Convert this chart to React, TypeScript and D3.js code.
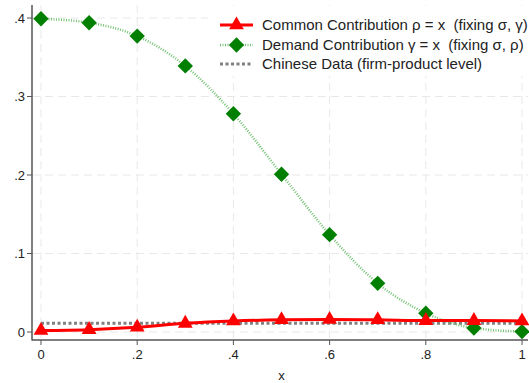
import React, { useEffect, useRef } from "react";
import * as d3 from "d3";

// x grid shared by both simulated series
const xValues = [0, 0.1, 0.2, 0.3, 0.4, 0.5, 0.6, 0.7, 0.8, 0.9, 1];
const commonContribution = [0.002, 0.003, 0.006, 0.011, 0.014, 0.0155, 0.016, 0.0155, 0.0145, 0.0145, 0.014];
const demandContribution = [0.399, 0.394, 0.377, 0.339, 0.278, 0.201, 0.124, 0.062, 0.024, 0.005, 0.0005];
const chineseData = 0.011;

const xTicks = [0, 0.2, 0.4, 0.6, 0.8, 1];
const xTickLabels = ["0", ".2", ".4", ".6", ".8", "1"];
const yTicks = [0, 0.1, 0.2, 0.3, 0.4];
const yTickLabels = ["0", ".1", ".2", ".3", ".4"];

const legendLabels = [
  "Common Contribution \u03c1 = x  (fixing \u03c3, \u03b3)",
  "Demand Contribution \u03b3 = x  (fixing \u03c3, \u03c1)",
  "Chinese Data (firm-product level)",
];

const App = () => {
  const ref = useRef<SVGSVGElement>(null);

  useEffect(() => {
    const width = 529,
      height = 383;
    const svg = d3.select(ref.current);
    svg.selectAll("*").remove();
    const font = "Arial, 'Liberation Sans', sans-serif";

    const x = d3.scaleLinear().domain([0, 1]).range([41, 522]);
    const y = d3.scaleLinear().domain([0, 0.4]).range([332, 18]);

    const left = 32,
      right = 528,
      bottom = 340,
      top = 5;

    svg.append("rect").attr("width", width).attr("height", height).attr("fill", "white");

    // grid
    svg
      .selectAll("hgrid")
      .data(yTicks)
      .enter()
      .append("line")
      .attr("x1", left)
      .attr("x2", right)
      .attr("y1", (d) => y(d))
      .attr("y2", (d) => y(d))
      .attr("stroke", "#e8e8e8")
      .attr("stroke-dasharray", "8,5");
    svg
      .selectAll("vgrid")
      .data(xTicks)
      .enter()
      .append("line")
      .attr("x1", (d) => x(d))
      .attr("x2", (d) => x(d))
      .attr("y1", top)
      .attr("y2", bottom)
      .attr("stroke", "#e8e8e8")
      .attr("stroke-dasharray", "8,5");

    // axes
    svg.append("line").attr("x1", left).attr("x2", left).attr("y1", top).attr("y2", bottom + 0.5).attr("stroke", "#555").attr("stroke-width", 1.5);
    svg.append("line").attr("x1", left).attr("x2", right).attr("y1", bottom).attr("y2", bottom).attr("stroke", "#555").attr("stroke-width", 1.5);

    svg
      .selectAll("ytick")
      .data(yTicks)
      .enter()
      .append("line")
      .attr("x1", left - 5)
      .attr("x2", left)
      .attr("y1", (d) => y(d))
      .attr("y2", (d) => y(d))
      .attr("stroke", "#555");
    svg
      .selectAll("ylab")
      .data(yTicks)
      .enter()
      .append("text")
      .attr("x", left - 7)
      .attr("y", (d) => y(d))
      .attr("dy", "0.35em")
      .attr("text-anchor", "end")
      .style("font-family", font)
      .style("font-size", "13px")
      .attr("fill", "#222")
      .text((d, i) => yTickLabels[i]);

    svg
      .selectAll("xtick")
      .data(xTicks)
      .enter()
      .append("line")
      .attr("x1", (d) => x(d))
      .attr("x2", (d) => x(d))
      .attr("y1", bottom)
      .attr("y2", bottom + 5)
      .attr("stroke", "#555");
    svg
      .selectAll("xlab")
      .data(xTicks)
      .enter()
      .append("text")
      .attr("x", (d) => x(d))
      .attr("y", bottom + 19)
      .attr("text-anchor", "middle")
      .style("font-family", font)
      .style("font-size", "13px")
      .attr("fill", "#222")
      .text((d, i) => xTickLabels[i]);

    svg
      .append("text")
      .attr("x", (x(0) + x(1)) / 2)
      .attr("y", 380)
      .attr("text-anchor", "middle")
      .style("font-family", font)
      .style("font-size", "13px")
      .attr("fill", "#222")
      .text("x");

    // chinese data reference line
    svg
      .append("line")
      .attr("x1", x(0))
      .attr("x2", x(1) + 5)
      .attr("y1", y(chineseData))
      .attr("y2", y(chineseData))
      .attr("stroke", "#808080")
      .attr("stroke-width", 3)
      .attr("stroke-dasharray", "3,2.5");

    const line = d3
      .line<number>()
      .x((d, i) => x(xValues[i]))
      .y((d) => y(d))
      .curve(d3.curveMonotoneX);

    // demand contribution
    svg
      .append("path")
      .attr("d", line(demandContribution) as string)
      .attr("fill", "none")
      .attr("stroke", "#74c274")
      .attr("stroke-width", 2.5)
      .attr("stroke-dasharray", "1,1.5");

    // common contribution
    svg
      .append("path")
      .attr("d", line(commonContribution) as string)
      .attr("fill", "none")
      .attr("stroke", "#ff0000")
      .attr("stroke-width", 3);

    const diamond = d3.symbol().type(d3.symbolDiamond2).size(150);
    const triangle = d3.symbol().type(d3.symbolTriangle).size(95);

    svg
      .selectAll("diamonds")
      .data(demandContribution)
      .enter()
      .append("path")
      .attr("d", diamond as any)
      .attr("transform", (d, i) => "translate(" + x(xValues[i]) + "," + y(d) + ")")
      .attr("fill", "#007f00");

    svg
      .selectAll("triangles")
      .data(commonContribution)
      .enter()
      .append("path")
      .attr("d", triangle as any)
      .attr("transform", (d, i) => "translate(" + x(xValues[i]) + "," + y(d) + ")")
      .attr("fill", "#ff0000");

    // legend
    const lg = svg.append("g");
    lg.append("rect").attr("x", 208).attr("y", 6).attr("width", 320).attr("height", 70).attr("fill", "white");
    const rowY = [25, 45, 64];
    const sx1 = 220,
      sx2 = 253,
      smid = (sx1 + sx2) / 2;
    lg.append("line").attr("x1", sx1).attr("x2", sx2).attr("y1", rowY[0]).attr("y2", rowY[0]).attr("stroke", "#ff0000").attr("stroke-width", 3);
    lg.append("path").attr("d", triangle as any).attr("transform", "translate(" + smid + "," + rowY[0] + ")").attr("fill", "#ff0000");
    lg.append("line").attr("x1", sx1).attr("x2", sx2).attr("y1", rowY[1]).attr("y2", rowY[1]).attr("stroke", "#74c274").attr("stroke-width", 2.5).attr("stroke-dasharray", "1,1.5");
    lg.append("path").attr("d", diamond as any).attr("transform", "translate(" + smid + "," + rowY[1] + ")").attr("fill", "#007f00");
    lg.append("line").attr("x1", sx1).attr("x2", sx2).attr("y1", rowY[2]).attr("y2", rowY[2]).attr("stroke", "#808080").attr("stroke-width", 3).attr("stroke-dasharray", "3,2.5");

    lg.selectAll("ltext")
      .data(legendLabels)
      .enter()
      .append("text")
      .attr("x", 262)
      .attr("y", (d, i) => rowY[i])
      .attr("dy", "0.35em")
      .style("font-family", font)
      .style("font-size", "15px")
      .style("white-space", "pre")
      .attr("fill", "#222")
      .text((d) => d);
  }, []);

  return <svg ref={ref} width={529} height={383} style={{ position: "absolute", left: 0, top: 0 }} />;
};

export default App;
